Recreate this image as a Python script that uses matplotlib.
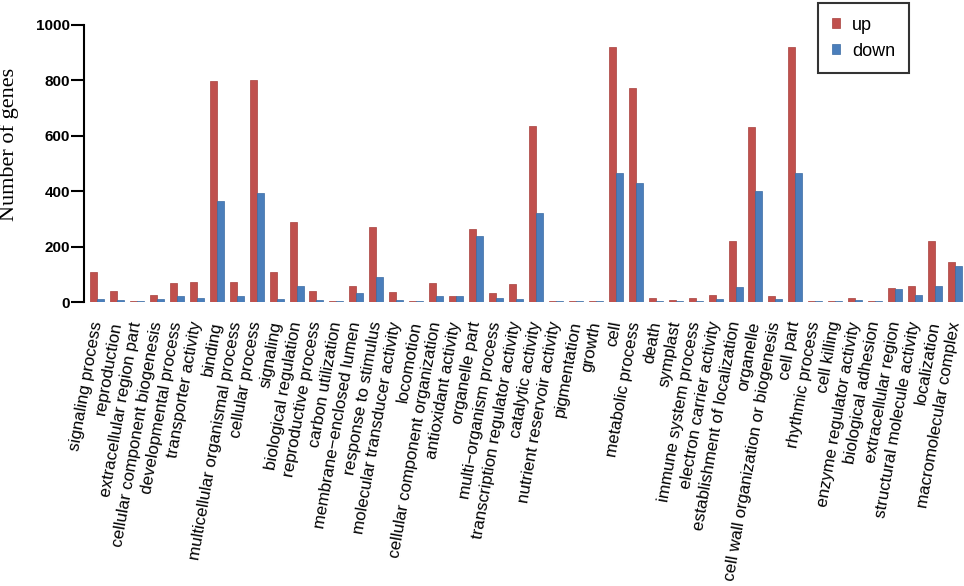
import matplotlib
matplotlib.use('Agg')
import matplotlib.pyplot as plt
import numpy as np

categories = [
    'signaling process', 'reproduction', 'extracellular region part',
    'cellular component biogenesis', 'developmental process', 'transporter activity',
    'binding', 'multicellular organismal process', 'cellular process', 'signaling',
    'biological regulation', 'reproductive process', 'carbon utilization',
    'membrane\u2212enclosed lumen', 'response to stimulus', 'molecular transducer activity',
    'locomotion', 'cellular component organization', 'antioxidant activity',
    'organelle part', 'multi\u2212organism process', 'transcription regulator activity',
    'catalytic activity', 'nutrient reservoir activity', 'pigmentation', 'growth',
    'cell', 'metabolic process', 'death', 'symplast', 'immune system process',
    'electron carrier activity', 'establishment of localization', 'organelle',
    'cell wall organization or biogenesis', 'cell part', 'rhythmic process',
    'cell killing', 'enzyme regulator activity', 'biological adhesion',
    'extracellular region', 'structural molecule activity', 'localization',
    'macromolecular complex',
]

up = [107, 41, 3, 26, 68, 73, 799, 73, 802, 107, 288, 41, 3, 59, 269, 36, 2, 68,
      21, 264, 33, 64, 635, 2, 2, 5, 921, 771, 14, 6, 14, 26, 220, 630, 22, 921,
      3, 2, 14, 2, 50, 58, 222, 145]
down = [12, 8, 3, 12, 22, 16, 363, 22, 394, 12, 56, 8, 3, 31, 90, 6, 2, 22,
        22, 237, 16, 12, 323, 4, 2, 4, 465, 431, 5, 2, 3, 11, 53, 402, 11, 465,
        5, 3, 8, 2, 48, 26, 57, 131]

fig = plt.figure(figsize=(9.64, 5.86), dpi=100)
ax = fig.add_axes([84 / 964, 284 / 586, 880 / 964, 277 / 586])

x = np.arange(len(categories))
w = 0.35
ax.bar(x - w / 2, up, w, color='#C0504D', edgecolor='#A8403D', linewidth=0.5, label='up')
ax.bar(x + w / 2, down, w, color='#4A7EBB', edgecolor='#3B6BA3', linewidth=0.5, label='down')

ax.set_xlim(-0.65, len(categories) - 0.55)
ax.set_ylim(0, 1000)
ax.set_yticks([0, 200, 400, 600, 800, 1000])
ax.set_yticklabels(['0', '200', '400', '600', '800', '1000'],
                   fontfamily='Liberation Sans', fontweight='bold', fontsize=11)
ax.tick_params(axis='y', length=9.5, width=1.5, pad=0.5, direction='out')

ax.set_xticks(x)
ax.set_xticklabels(categories, rotation=80, ha='right', va='center',
                   rotation_mode='anchor', fontfamily='Liberation Sans', fontsize=12.2)
ax.tick_params(axis='x', length=0, pad=14)

for s in ['top', 'right', 'bottom']:
    ax.spines[s].set_visible(False)
ax.spines['left'].set_linewidth(1.5)

ax.set_ylabel('Number of genes', fontfamily='Liberation Serif', fontsize=16)
ax.yaxis.set_label_coords(-0.074, 0.57)

leg = ax.legend(loc='upper left', bbox_to_anchor=(818 / 964, 1 - 3 / 586),
                bbox_transform=fig.transFigure, borderaxespad=0, frameon=True,
                fancybox=False, prop={'family': 'Liberation Sans', 'size': 13},
                handlelength=0.45, handleheight=0.45, handletextpad=0.7,
                borderpad=0.75, labelspacing=0.5)
leg.get_frame().set_edgecolor('black')
leg.get_frame().set_linewidth(1.5)

fig.savefig('out.png', dpi=100)
